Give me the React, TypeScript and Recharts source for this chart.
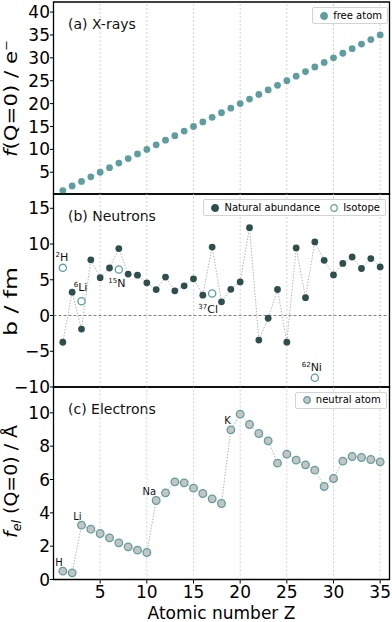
import React from 'react';
import { ScatterChart, Scatter, XAxis, YAxis, ReferenceLine, ReferenceArea, Legend, Label } from 'recharts';

// atomic number Z shared by all three panels
const atomicNumber = [1, 2, 3, 4, 5, 6, 7, 8, 9, 10, 11, 12, 13, 14, 15, 16, 17, 18, 19, 20, 21, 22, 23, 24, 25, 26, 27, 28, 29, 30, 31, 32, 33, 34, 35];

// (a) X-ray form factor at Q=0 (free atom), in electrons
const xrayFreeAtom = [1, 2, 3, 4, 5, 6, 7, 8, 9, 10, 11, 12, 13, 14, 15, 16, 17, 18, 19, 20, 21, 22, 23, 24, 25, 26, 27, 28, 29, 30, 31, 32, 33, 34, 35];

// (b) coherent neutron scattering length, natural abundance (fm)
const neutronNatural = [-3.74, 3.26, -1.9, 7.79, 5.3, 6.65, 9.36, 5.8, 5.65, 4.57, 3.63, 5.38, 3.45, 4.15, 5.13, 2.85, 9.58, 1.91, 3.67, 4.7, 12.29, -3.44, -0.38, 3.64, -3.73, 9.45, 2.49, 10.3, 7.72, 5.68, 7.29, 8.19, 6.58, 7.97, 6.8];

// (b) selected isotopes
const isotopeZ = [1, 3, 7, 17, 28];
const isotopeB = [6.67, 2.0, 6.44, 3.08, -8.7];
const isotopeMass = ['2', '6', '15', '37', '62'];
const isotopeSymbol = ['H', 'Li', 'N', 'Cl', 'Ni'];

// (c) electron scattering factor at Q=0, neutral atom (Å)
const electronNeutral = [0.5, 0.4, 3.26, 3.02, 2.76, 2.5, 2.2, 1.96, 1.76, 1.62, 4.74, 5.2, 5.86, 5.8, 5.48, 5.16, 4.84, 4.56, 8.98, 9.92, 9.3, 8.76, 8.32, 6.98, 7.52, 7.16, 6.88, 6.56, 5.58, 6.06, 7.1, 7.38, 7.32, 7.2, 7.06];
const electronLabelZ = [1, 3, 11, 19];
const electronLabelSymbol = ['H', 'Li', 'Na', 'K'];

const xTicks = [5, 10, 15, 20, 25, 30, 35];
const yTicksA = [5, 10, 15, 20, 25, 30, 35, 40];
const yTicksB = [-10, -5, 0, 5, 10, 15];
const yTicksC = [0, 2, 4, 6, 8, 10];

const xDomain: [number, number] = [0, 36];
const yDomainA: [number, number] = [0.25, 42.2];
const yDomainB: [number, number] = [-10, 17];
const yDomainC: [number, number] = [0, 11.55];

const CADET = '#5f9ea0';
const SLATE = '#2f4f4f';
const SILVER = '#c4c4c4';
const W = 392;

const xrayRows = atomicNumber.map((z, i) => ({ z, v: xrayFreeAtom[i] }));
const naturalRows = atomicNumber.map((z, i) => ({ z, v: neutronNatural[i] }));
const isotopeRows = isotopeZ.map((z, i) => ({ z, v: isotopeB[i], mass: isotopeMass[i], sym: isotopeSymbol[i] }));
const electronRows = atomicNumber.map((z, i) => {
    const k = electronLabelZ.indexOf(z);
    return { z, v: electronNeutral[i], sym: k >= 0 ? electronLabelSymbol[k] : '' };
});

// where each isotope tag sits relative to its marker
const ISO_OFFSET: Record<string, [number, number]> = {
    H: [-1, -7], Li: [-1, -10], N: [-2, 18], Cl: [-4, 19], Ni: [-3, -7],
};

type MarkerStyle = { fill: string; stroke: string; r: number };

const minus = (v: number) => String(v).replace('-', '\u2212');

const gridLines = () => xTicks.map(t => (
    <ReferenceLine key={'g' + t} x={t} stroke="#c8c8c8" strokeWidth={0.8} strokeDasharray="2 2" />
));

const frame = (yDomain: [number, number], title: string) => (
    <ReferenceArea
        x1={xDomain[0]} x2={xDomain[1]} y1={yDomain[0]} y2={yDomain[1]}
        fill="none" fillOpacity={0} stroke="#000" strokeWidth={1.3} ifOverflow="visible"
        label={<Label content={(p: any) => (
            <text x={p.viewBox.x + 14.5} y={p.viewBox.y + 26.5} fontSize={14} fill="#111">{title}</text>
        )} />}
    />
);

const yLabel = (parts: React.ReactNode, length: number, shift: number) => (p: any) => {
    const vb = p.viewBox;
    const cx = vb.x + 17;
    const cy = vb.y + vb.height / 2 + shift;
    return (
        <text x={0} y={0} transform={`translate(${cx},${cy}) rotate(-90)`} textAnchor="middle"
            fontSize={18} fill="#000" textLength={length} lengthAdjust="spacingAndGlyphs">{parts}</text>
    );
};

// legend entries are drawn in the order of the keys in `styles`
const legendBox = (styles: Record<string, MarkerStyle>, gap: number) => (props: any) => {
    const order = Object.keys(styles);
    const items = (props.payload || [])
        .filter((e: any) => styles[e.value])
        .sort((a: any, b: any) => order.indexOf(a.value) - order.indexOf(b.value));
    return (
        <div style={{
            display: 'flex', alignItems: 'center', height: 15, padding: '0 5px 0 7px',
            border: '1px solid #d3d3d3', borderRadius: 2, background: 'rgba(255,255,255,0.85)',
            fontSize: 10, lineHeight: '10px', whiteSpace: 'nowrap', color: '#000',
        }}>
            {items.map((e: any, i: number) => {
                const s = styles[e.value];
                return (
                    <span key={e.value} style={{ display: 'flex', alignItems: 'center', marginLeft: i ? gap : 0 }}>
                        <svg width={8} height={8}><circle cx={4} cy={4} r={s.r} fill={s.fill} stroke={s.stroke} strokeWidth={1.2} /></svg>
                        <span style={{ marginLeft: 5 }}>{e.value}</span>
                    </span>
                );
            })}
        </div>
    );
};

const yAxisCommon = {
    dataKey: 'v', type: 'number' as const, width: 53.5, tickSize: 3.5, tickMargin: 0,
    tick: { fontSize: 17, fill: '#000' }, tickLine: { stroke: '#000', strokeWidth: 1 },
    axisLine: false, allowDataOverflow: true, interval: 0 as const, tickFormatter: minus,
};

export default function App() {
    return (
        <div style={{ position: 'relative', width: W, height: 622, background: '#fff', fontFamily: '"DejaVu Sans", Verdana, sans-serif' }}>
            <style>{'body{margin:0} .recharts-surface{overflow:visible}'}</style>

            {/* (a) X-rays */}
            <div style={{ position: 'absolute', left: 0, top: 0 }}>
                <ScatterChart width={W} height={194} margin={{ top: 2, right: 2.5, bottom: 0, left: 0 }}>
                    <XAxis dataKey="z" type="number" domain={xDomain} ticks={xTicks} hide allowDataOverflow />
                    <YAxis {...yAxisCommon} domain={yDomainA} ticks={yTicksA}
                        label={<Label content={yLabel(<>
                            <tspan fontStyle="italic">f</tspan>(Q=0) / e<tspan fontSize={11} dy={-7}>−</tspan>
                        </>, 117, 0.5)} />} />
                    {gridLines()}
                    <Scatter name="free atom" data={xrayRows} isAnimationActive={false}
                        shape={(p: any) => <circle cx={p.cx} cy={p.cy} r={3.4} fill={CADET} />} />
                    <Legend layout="horizontal" align="center" verticalAlign="middle"
                        wrapperStyle={{ top: 7, right: 4, width: 'auto', height: 'auto' }}
                        content={legendBox({ 'free atom': { fill: CADET, stroke: CADET, r: 3.3 } }, 9)} />
                    {frame(yDomainA, '(a) X-rays')}
                </ScatterChart>
            </div>

            {/* (b) Neutrons */}
            <div style={{ position: 'absolute', left: 0, top: 194 }}>
                <ScatterChart width={W} height={193} margin={{ top: 0, right: 2.5, bottom: 0, left: 0 }}>
                    <XAxis dataKey="z" type="number" domain={xDomain} ticks={xTicks} hide allowDataOverflow />
                    <YAxis {...yAxisCommon} domain={yDomainB} ticks={yTicksB}
                        label={<Label content={yLabel('b / fm', 69, 11)} />} />
                    {gridLines()}
                    <ReferenceLine y={0} stroke="#808080" strokeWidth={1} strokeDasharray="3 2" />
                    <Scatter name="Natural abundance" data={naturalRows} isAnimationActive={false}
                        line={{ stroke: '#b4b4b4', strokeWidth: 1, strokeDasharray: '1.5 1.5' }} lineType="joint"
                        shape={(p: any) => <circle cx={p.cx} cy={p.cy} r={3.4} fill={SLATE} />} />
                    <Scatter name="Isotope" data={isotopeRows} isAnimationActive={false}
                        shape={(p: any) => {
                            const [dx, dy] = ISO_OFFSET[p.payload.sym] || [0, -8];
                            return (
                                <g>
                                    <circle cx={p.cx} cy={p.cy} r={3.6} fill="#fff" stroke={CADET} strokeWidth={1.3} />
                                    <text x={p.cx + dx} y={p.cy + dy} textAnchor="middle" fontSize={11} fill="#111">
                                        <tspan fontSize={7} dy={-4}>{p.payload.mass}</tspan>
                                        <tspan dy={4}>{p.payload.sym}</tspan>
                                    </text>
                                </g>
                            );
                        }} />
                    <Legend layout="horizontal" align="center" verticalAlign="middle"
                        wrapperStyle={{ top: 5, right: 6, width: 'auto', height: 'auto' }}
                        content={legendBox({
                            'Natural abundance': { fill: SLATE, stroke: SLATE, r: 3.3 },
                            'Isotope': { fill: '#fff', stroke: CADET, r: 3.3 },
                        }, 10)} />
                    {frame(yDomainB, '(b) Neutrons')}
                </ScatterChart>
            </div>

            {/* (c) Electrons */}
            <div style={{ position: 'absolute', left: 0, top: 387 }}>
                <ScatterChart width={W} height={235} margin={{ top: 0, right: 2.5, bottom: 0, left: 0 }}>
                    <XAxis dataKey="z" type="number" domain={xDomain} ticks={xTicks} allowDataOverflow interval={0}
                        height={42.5} tickSize={4} tickMargin={2} tick={{ fontSize: 17, fill: '#000' }}
                        tickLine={{ stroke: '#000', strokeWidth: 1 }} axisLine={false}
                        label={<Label content={(p: any) => (
                            <text x={p.viewBox.x + p.viewBox.width / 2} y={p.viewBox.y + 39.5} textAnchor="middle" fontSize={17} fill="#000">Atomic number Z</text>
                        )} />} />
                    <YAxis {...yAxisCommon} domain={yDomainC} ticks={yTicksC}
                        label={<Label content={yLabel(<>
                            <tspan fontStyle="italic">f</tspan><tspan fontStyle="italic" fontSize={12} dy={4}>el</tspan><tspan dy={-4}> (Q=0) / Å</tspan>
                        </>, 113, -1.75)} />} />
                    {gridLines()}
                    <Scatter name="neutral atom" data={electronRows} isAnimationActive={false}
                        line={{ stroke: '#b4b4b4', strokeWidth: 1, strokeDasharray: '1.5 1.5' }} lineType="joint"
                        shape={(p: any) => (
                            <g>
                                <circle cx={p.cx} cy={p.cy} r={3.8} fill={SILVER} stroke={CADET} strokeWidth={1.3} />
                                {p.payload.sym ? (
                                    <text x={p.cx} y={p.cy - 5.5} textAnchor="end" fontSize={10} fill="#111">{p.payload.sym}</text>
                                ) : null}
                            </g>
                        )} />
                    <Legend layout="horizontal" align="center" verticalAlign="middle"
                        wrapperStyle={{ top: 4.7, right: 5.3, width: 'auto', height: 'auto' }}
                        content={legendBox({ 'neutral atom': { fill: SILVER, stroke: CADET, r: 3.3 } }, 9)} />
                    {frame(yDomainC, '(c) Electrons')}
                </ScatterChart>
            </div>
        </div>
    );
}
